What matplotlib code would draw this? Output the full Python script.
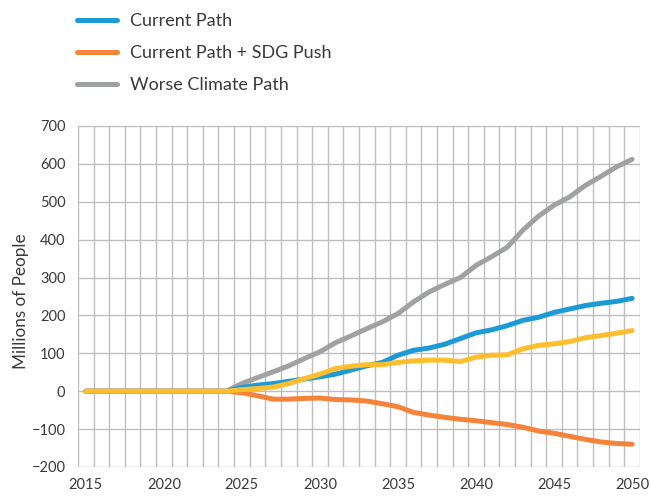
import matplotlib
matplotlib.use("Agg")
import matplotlib.pyplot as plt
from matplotlib.ticker import FixedLocator, MultipleLocator

plt.rcParams['font.family'] = ['Lato', 'DejaVu Sans']

years = list(range(2015, 2051))
zeros = [0] * 10  # 2015-2024

current = zeros + [10, 16, 20, 26, 32, 38, 45, 56, 67, 76, 95, 108, 114, 124, 139, 154,
                   162, 173, 187, 195, 208, 217, 226, 232, 237, 245]
sdg_push = zeros + [-4, -12, -21, -21, -19, -18, -22, -23, -26, -33, -41, -56, -63, -69, -74, -78,
                    -83, -88, -95, -105, -111, -119, -127, -134, -138, -140]
worse = zeros + [20, 36, 51, 67, 86, 104, 128, 146, 165, 183, 205, 236, 262, 282, 300, 332,
                 355, 380, 425, 462, 491, 513, 543, 567, 592, 612]
unlabeled = zeros + [4, 7, 11, 20, 33, 45, 60, 66, 70, 70, 76, 80, 82, 82, 78, 90,
                     95, 96, 112, 121, 125, 131, 141, 147, 153, 160]

labels = ['Current Path', 'Current Path + SDG Push', 'Worse Climate Path']
c_blue, c_orange, c_grey, c_yellow = '#1C9AD6', '#F5843A', '#A0A1A1', '#FDBF2D'
txt = '#3A3A3A'

fig = plt.figure(figsize=(6.51, 4.96), dpi=100)
ax = fig.add_axes([0.1198, 0.0585, 0.8632, 0.6875])

lw = 3.6
l_grey, = ax.plot(years, worse, color=c_grey, lw=lw, solid_capstyle='round', zorder=3)
l_blue, = ax.plot(years, current, color=c_blue, lw=lw, solid_capstyle='round', zorder=4)
l_orange, = ax.plot(years, sdg_push, color=c_orange, lw=lw, solid_capstyle='round', zorder=4)
l_yellow, = ax.plot(years, unlabeled, color=c_yellow, lw=lw, solid_capstyle='round', zorder=5)

ax.set_xlim(2014.5, 2050.5)
ax.set_ylim(-200, 700)
ax.yaxis.set_major_locator(MultipleLocator(100))
ax.xaxis.set_major_locator(FixedLocator(list(range(2015, 2051, 5))))
ax.xaxis.set_minor_locator(FixedLocator([y + 0.5 for y in range(2014, 2051)]))
ax.grid(True, which='minor', axis='x', color='#BEBEBE', lw=1.0)
ax.grid(True, which='major', axis='y', color='#BEBEBE', lw=1.0)
ax.grid(False, which='major', axis='x')
ax.set_axisbelow(True)
for s in ax.spines.values():
    s.set_visible(False)
ax.tick_params(which='both', length=0)
ax.tick_params(axis='y', labelsize=10.5, colors=txt, pad=9)
ax.tick_params(axis='x', labelsize=10.5, colors=txt, pad=8)
ax.set_ylabel('Millions of People', fontsize=12.3, color=txt)
ax.yaxis.set_label_coords(-0.088, 0.485)

leg = fig.legend([l_blue, l_orange, l_grey], labels, loc='upper left',
                 bbox_to_anchor=(77 / 651, 1 - 13 / 496), frameon=False, fontsize=13,
                 handlelength=2.2, handletextpad=0.72, labelspacing=0.89,
                 borderpad=0, borderaxespad=0, labelcolor=txt)

fig.savefig('out.png', dpi=100)
